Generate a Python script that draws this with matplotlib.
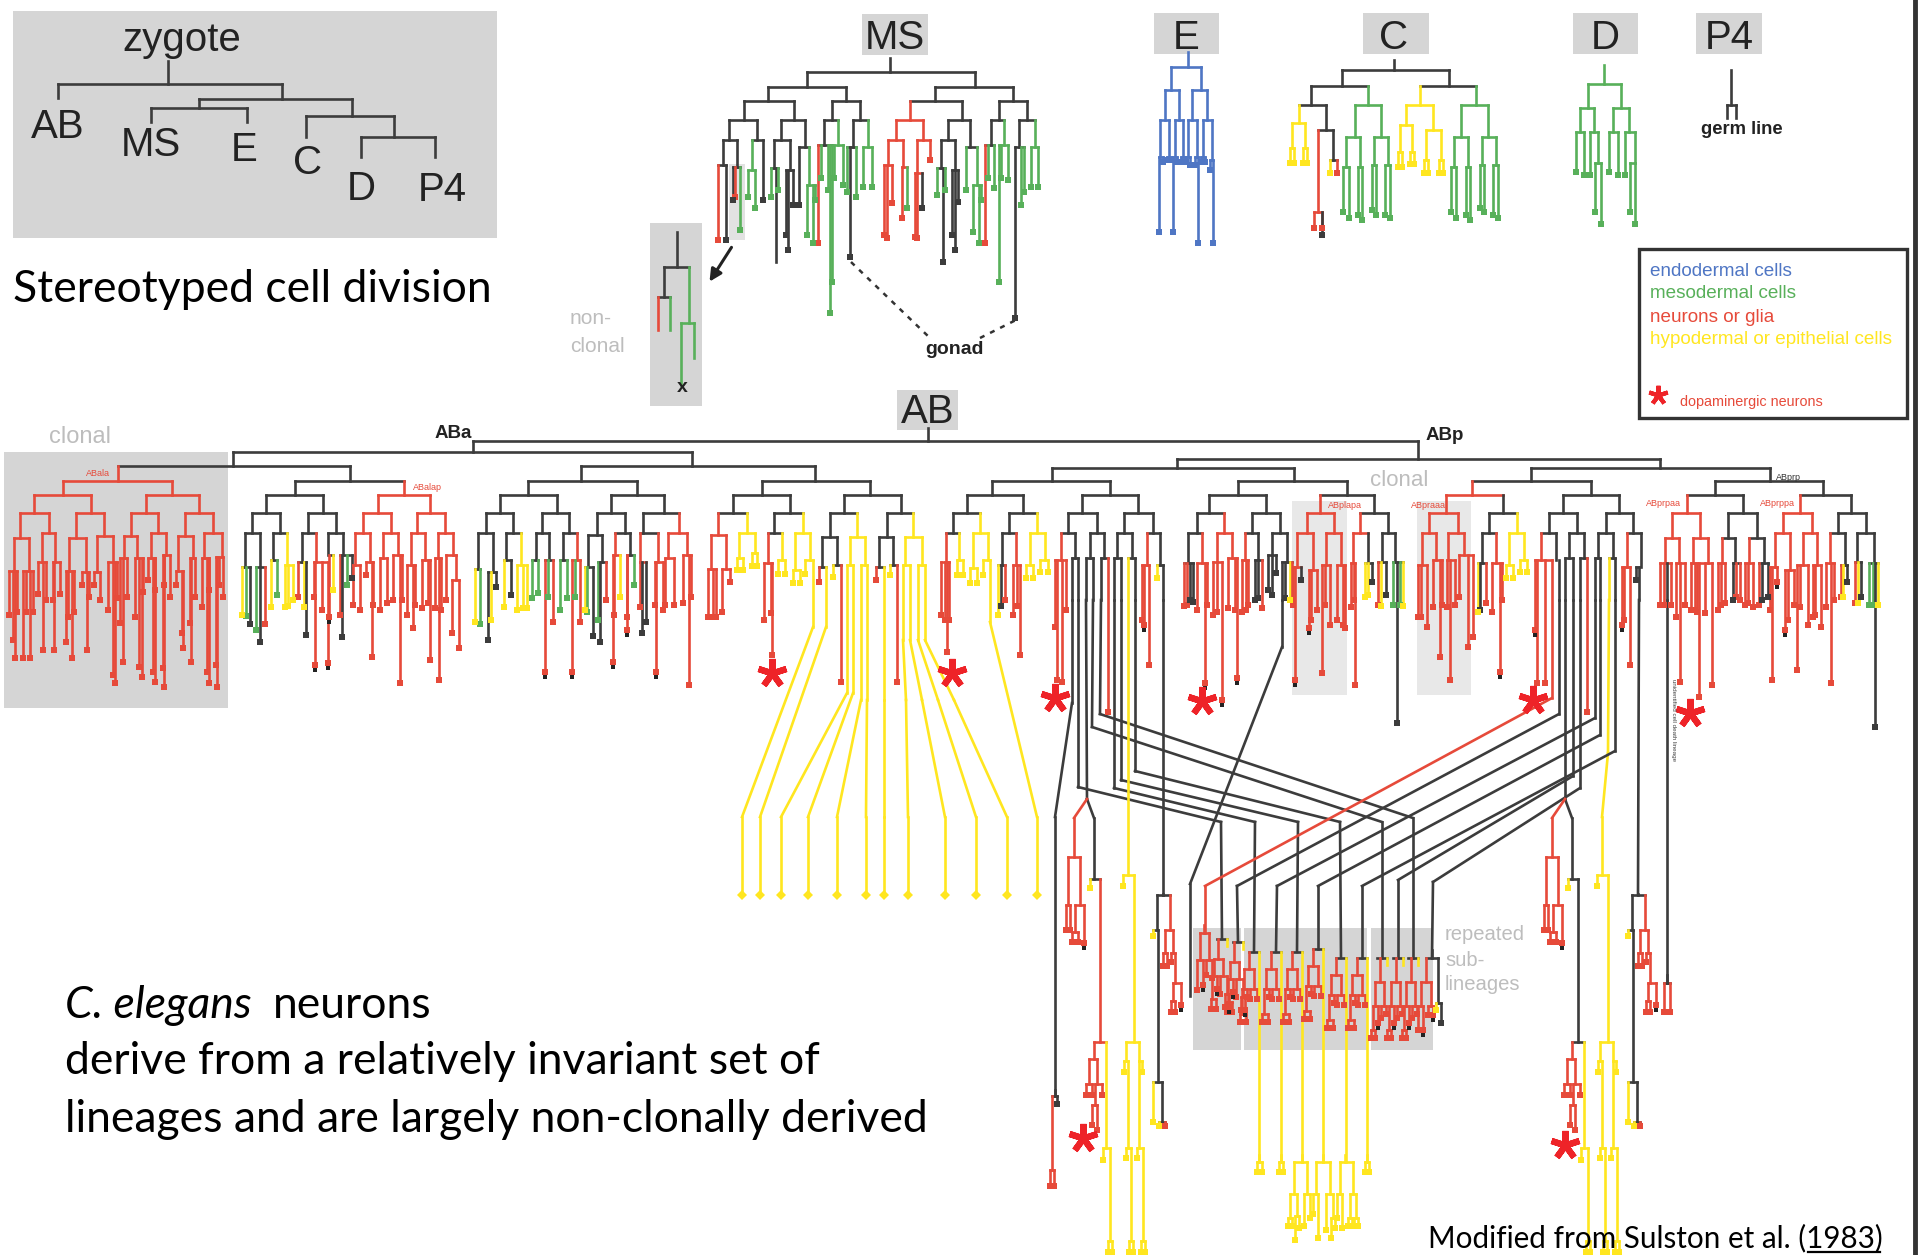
import matplotlib
matplotlib.use("Agg")
import matplotlib.pyplot as plt
from matplotlib.collections import LineCollection
from matplotlib.patches import Rectangle

k, r, g, y, b, z = 'k', 'r', 'g', 'y', 'b', 'z'
R = 'R'          # red branch ending in a black dot
K_ = 'k-'        # black branch continued by a long line, or without an end mark
Y_ = 'y-'
R_ = 'r-'
G_ = 'g-'
PALETTE = {'k': '#3c3c3c', 'r': '#e64a3a', 'g': '#58b05a', 'y': '#ffe620', 'b': '#4f76c4'}

# ---- founder overview tree: (x, y, colour, children)
ZYGOTE = (168, 84, k, [(58, 98, K_),
                       (282, 99, k, [(199, 108, k, [(151, 122, K_), (247, 122, K_)]),
                                     (352, 116, k, [(306, 137, K_),
                                                    (394, 137, k, [(361, 157, K_), (435, 157, K_)])])])])

# ---- MS lineage
MS_TREE = (890, 72, k, [
 (807, 87, k, [
  (768, 101, k, [
   (744, 120, k, [
    (729, 140, k, [(723, 165, k, [(718, 240, r), (726, 240, k)]),
                   (737, 167, k, [(733, 200, k), (735, 197, r), (740, 230, g)])]),
    (757, 140, k, [(752, 170, g, [(748, 197, g), (755, 208, g)]), (763, 200, k)])]),
   (794, 120, k, [
    (781, 140, k, [(774, 168, k, [(771, 197, g), (776, 262, K_), (778, 190, g)]),
                   (790, 170, k, [(786, 235, k), (788, 250, k), (793, 205, k)])]),
    (805, 147, k, [(799, 205, k), (809, 185, g, [(807, 235, g), (813, 243, g), (815, 200, g)])])])]),
  (846, 101, k, [
   (832, 120, k, [
    (824, 145, k, [(818, 243, r), (821, 178, g), (828, 190, g), (830, 313, g), (832, 282, g)]),
    (838, 145, g, [(834, 178, g), (843, 185, g)])]),
   (860, 120, k, [
    (853, 147, k, [(847, 192, g), (850, 257, k), (856, 197, g)]),
    (868, 147, g, [(863, 187, g), (872, 187, g)])])])]),
 (975, 87, k, [
  (935, 101, k, [
   (910, 120, r, [
    (896, 140, r, [(888, 165, r, [(884, 235, r), (887, 238, r), (892, 203, r)]),
                   (903, 167, r, [(902, 218, r), (907, 208, g)])]),
    (923, 140, r, [(917, 173, r, [(915, 237, r), (917, 238, r), (922, 208, k)]), (930, 160, r)])]),
   (962, 120, k, [
    (948, 140, k, [(941, 168, k, [(937, 195, g), (943, 262, k), (945, 190, g)]),
                   (955, 170, k, [(952, 235, k), (955, 250, k), (958, 202, k)])]),
    (970, 147, k, [(966, 190, g), (977, 185, g, [(973, 232, g), (979, 243, g), (981, 200, g)])])])]),
  (1013, 101, k, [
   (999, 120, k, [
    (991, 145, k, [(985, 243, r), (988, 178, g), (994, 188, g)]),
    (1004, 145, g, [(999, 282, g), (1001, 178, g), (1008, 180, g)])]),
   (1027, 120, k, [
    (1019, 147, k, [(1015, 318, k), (1021, 205, g), (1024, 192, g)]),
    (1035, 147, g, [(1031, 187, g), (1038, 187, g)])])])])])

NONCLONAL = (677, 267, k, [(664, 297, k, [(658, 330, R_), (670, 330, G_)]),
                           (689, 323, g, [(681, 385, G_), (694, 358, G_)])])

# ---- E, C, D, P4 lineages
E_TREE = (1188, 67, b, [
 (1171, 90, b, [
  (1165, 120, b, [(1160, 157, b, [(1159, 232, b), (1163, 162, b)]), (1169, 157, b, [(1167, 160, b), (1171, 160, b)])]),
  (1179, 120, b, [(1175, 157, b, [(1173, 232, b), (1177, 162, b)]), (1183, 157, b, [(1181, 162, b), (1185, 162, b)])])]),
 (1201, 90, b, [
  (1192, 120, b, [(1188, 157, b, [(1186, 162, b), (1190, 165, b)]), (1197, 157, b, [(1195, 165, b), (1198, 243, b)])]),
  (1207, 120, b, [(1203, 157, b, [(1201, 162, b), (1205, 162, b)]), (1212, 160, b, [(1213, 243, b), (1210, 170, b)])])])])

C_TREE = (1394, 70, k, [
 (1342, 86, k, [
  (1311, 105, k, [
   (1299, 123, y, [(1292, 148, y, [(1290, 163, y), (1294, 163, y)]), (1305, 148, y, [(1303, 163, y), (1307, 163, y)])]),
   (1326, 130, k, [(1318, 212, r, [(1314, 228, r), (1322, 228, r), (1322, 235, k)]),
                   (1333, 160, k, [(1330, 173, y), (1337, 173, r)])])]),
  (1368, 105, g, [
   (1355, 137, g, [(1346, 167, g, [(1343, 212, g), (1349, 218, g)]), (1360, 167, g, [(1358, 215, g), (1362, 220, g)])]),
   (1381, 137, g, [(1374, 165, g, [(1372, 210, g), (1376, 215, g)]), (1388, 165, g, [(1385, 215, g), (1390, 218, g)])])])]),
 (1449, 86, k, [
  (1420, 105, y, [
   (1406, 125, y, [(1400, 152, y, [(1398, 167, y), (1402, 167, y)]), (1412, 152, y, [(1410, 164, y), (1414, 164, y)])]),
   (1433, 130, y, [(1426, 160, y, [(1424, 173, y), (1428, 173, y)]), (1441, 160, y, [(1439, 173, y), (1443, 173, y)])])]),
  (1476, 105, g, [
   (1461, 137, g, [(1454, 167, g, [(1451, 212, g), (1456, 218, g)]), (1468, 167, g, [(1466, 215, g), (1470, 220, g)])]),
   (1488, 137, g, [(1482, 165, g, [(1480, 208, g), (1484, 212, g)]), (1496, 165, g, [(1493, 215, g), (1498, 218, g)])])])])])

D_TREE = (1604, 84, g, [
 (1588, 108, g, [(1580, 132, g, [(1576, 172, g), (1584, 175, g)]),
                 (1594, 132, g, [(1590, 175, g), (1598, 163, g, [(1595, 212, g), (1601, 224, g)])])]),
 (1621, 108, g, [(1613, 132, g, [(1609, 172, g), (1618, 175, g)]),
                 (1629, 132, g, [(1625, 175, g), (1635, 163, g, [(1630, 212, g), (1635, 224, g)])])])])

P4_TREE = (1731, 105, k, [(1727, 118, K_), (1736, 118, K_)])

# ---- AB lineage, anterior half
ABALA = (118, 481, r, [
 (63, 495, r, [
  (34, 513, r, [
   (20, 538, r, [(14, 571, r, [(9, 615, r), (13, 640, r), (15, 658, r), (17, 612, r)]),
                 (29, 571, r, [(23, 658, r), (26, 612, r), (30, 658, r), (33, 612, r)])]),
   (49, 533, r, [(42, 562, r, [(38, 594, r), (43, 650, r), (46, 600, r)]),
                 (55, 562, r, [(53, 600, r), (54, 650, r), (60, 594, r)])])]),
  (91, 513, r, [
   (76, 538, r, [(69, 571, r, [(66, 642, r), (68, 617, r), (72, 658, r), (74, 612, r)]),
                 (86, 572, r, [(82, 585, r), (87, 650, r), (89, 597, r)])]),
   (104, 536, r, [(97, 572, r, [(94, 585, r), (100, 600, r)]),
                  (113, 562, r, [(108, 610, r), (113, 675, r), (115, 683, r), (117, 598, r)])])])]),
 (172, 495, r, [
  (146, 513, r, [
   (131, 536, r, [(124, 558, r, [(120, 623, r), (123, 662, r), (127, 597, r)]),
                  (137, 558, r, [(135, 617, r), (139, 667, r), (142, 677, r), (143, 592, r)])]),
   (158, 533, r, [(151, 558, r, [(148, 580, r), (153, 672, r), (155, 682, r), (155, 590, r)]),
                  (166, 555, r, [(163, 668, r), (164, 687, r), (164, 585, r), (170, 597, r)])])]),
  (199, 513, r, [
   (185, 536, r, [(178, 571, r, [(176, 585, r), (182, 633, r), (183, 648, r)]),
                  (193, 558, r, [(190, 623, r), (191, 662, r), (195, 597, r)])]),
   (213, 533, r, [(204, 558, r, [(202, 607, r), (207, 672, r), (209, 683, r), (209, 590, r)]),
                  (222, 557, r, [(216, 665, r), (217, 687, r), (219, 585, r), (223, 597, r)])])])])])

ABALP = (350, 481, k, [
 (295, 495, k, [
  (266, 513, k, [
   (252, 533, k, [(245, 567, k, [(242, 615, y), (246, 616, g), (250, 624, k)]),
                  (260, 567, k, [(256, 630, g), (260, 642, k), (265, 624, r)])]),
   (280, 533, k, [(273, 560, k, [(271, 607, y), (277, 595, g)]),
                  (287, 565, y, [(285, 607, y), (288, 606, y), (293, 600, y)])])]),
  (323, 513, k, [
   (308, 533, k, [(302, 562, k, [(298, 597, r), (304, 607, y), (306, 635, k)]),
                  (316, 562, r, [(314, 597, r), (315, 665, R), (322, 610, r), (328, 663, R)])]),
   (336, 533, k, [(328, 555, k, [(329, 617, R), (333, 590, y)]),
                  (343, 555, k, [(340, 615, r), (342, 637, k), (347, 585, g), (352, 578, k)])])])]),
 (404, 495, r, [
  (378, 513, r, [
   (363, 533, r, [(355, 565, r, [(353, 605, r), (360, 610, r)]),
                  (370, 562, r, [(366, 575, r), (372, 657, r), (373, 605, r)])]),
   (391, 533, r, [(383, 558, r, [(380, 610, r), (387, 603, r)]),
                  (398, 555, r, [(393, 600, r), (400, 683, r), (402, 600, r)])])]),
  (430, 513, r, [
   (417, 533, r, [(411, 565, r, [(407, 615, r), (413, 628, r), (415, 605, r)]),
                  (425, 560, r, [(422, 608, r), (430, 660, r), (428, 603, r)])]),
   (445, 533, r, [(438, 558, r, [(435, 608, r), (439, 680, r), (441, 610, r)]),
                  (453, 555, r, [(446, 600, r), (456, 580, r, [(452, 633, r), (459, 648, r)])])])])])])

ABARA = (581, 481, k, [
 (528, 495, k, [
  (500, 513, k, [
   (486, 533, k, [(478, 569, k, [(475, 622, y), (480, 624, g)]),
                  (493, 572, k, [(488, 640, k), (491, 620, y), (496, 587, k)])]),
   (513, 533, k, [(506, 560, k, [(504, 607, y), (511, 595, k)]),
                  (521, 565, y, [(517, 610, y), (523, 608, y), (527, 608, y)])])]),
  (557, 513, k, [
   (542, 533, k, [(536, 560, k, [(532, 598, g), (538, 593, g)]),
                  (549, 560, k, [(545, 672, R), (548, 597, g), (553, 622, r)])]),
   (569, 533, k, [(563, 560, k, [(560, 610, g), (567, 598, g)]),
                  (577, 560, r, [(572, 672, R), (575, 597, g), (580, 622, r)])])])]),
 (637, 495, k, [
  (611, 513, k, [
   (597, 535, k, [(588, 567, k, [(585, 610, y), (587, 612, g), (593, 636, k)]),
                  (602, 562, k, [(598, 620, g), (600, 642, k), (606, 600, r)])]),
   (625, 533, k, [(615, 555, r, [(613, 662, R), (614, 615, r), (620, 597, y)]),
                  (630, 555, k, [(627, 630, R), (627, 617, r), (634, 585, g)])])]),
  (664, 513, k, [
   (643, 533, k, [(640, 562, r, [(640, 607, r), (642, 633, k), (646, 622, k)]),
                  (658, 562, r, [(655, 605, r), (656, 672, R), (663, 610, r)])]),
   (679, 533, r, [(668, 558, r, [(665, 605, r), (674, 605, r)]),
                  (687, 555, r, [(683, 603, r), (689, 685, r), (691, 597, r)])])])])])

ABARP = (815, 481, k, [
 (762, 495, k, [
  (733, 513, k, [
   (718, 535, r, [(711, 569, r, [(708, 617, r), (713, 617, r), (716, 617, r)]),
                  (726, 569, r, [(722, 612, r), (730, 582, r)])]),
   (747, 533, y, [(739, 558, y, [(737, 570, y), (743, 570, y)]),
                  (755, 553, y, [(752, 566, y), (757, 566, y)])])]),
  (790, 513, k, [
   (774, 533, k, [(768, 563, r, [(764, 620, r), (771, 613, r), (772, 655, r)]),
                  (782, 560, y, [(778, 574, y), (785, 574, y)])]),
   (803, 533, y, [(795, 570, y, [(793, 583, y), (800, 583, y)]),
                  (810, 560, y, [(805, 574, y), (813, 627, Y_)])])])]),
 (870, 495, k, [
  (844, 513, k, [
   (830, 537, k, [(822, 567, k, [(819, 582, r), (826, 627, Y_)]),
                  (837, 565, k, [(833, 577, y), (841, 682, r)])]),
   (857, 537, y, [(850, 565, y, [(847, 693, Y_), (853, 693, Y_)]),
                  (865, 565, y, [(861, 700, Y_), (867, 700, Y_)])])]),
  (901, 513, k, [
   (887, 537, k, [(879, 567, k, [(876, 580, r), (884, 700, Y_)]),
                  (893, 565, k, [(890, 575, y), (897, 682, r)])]),
   (913, 537, y, [(905, 565, y, [(903, 640, Y_), (910, 640, Y_)]),
                  (922, 565, y, [(918, 640, Y_), (925, 640, Y_)])])])])])

# ---- AB lineage, posterior half: (stem, y of its bar, colour, children)
ABPL_1 = (992, 495, k, [
 (967, 513, k, [
  (953, 533, k, [(946, 562, r, [(941, 615, r), (945, 620, r), (947, 652, r), (949, 620, r)]),
                 (959, 560, y, [(957, 575, y), (963, 575, y)])]),
  (980, 533, y, [(973, 568, y, [(970, 583, y), (977, 583, y)]),
                 (988, 560, y, [(983, 575, y), (990, 622, Y_)])])]),
 (1023, 513, k, [
  (1009, 533, k, [(1002, 565, k, [(998, 615, y), (1001, 606, k), (1005, 600, r)]),
                  (1016, 565, r, [(1013, 615, r), (1017, 606, r), (1020, 655, r)])]),
  (1037, 533, y, [(1030, 565, y, [(1026, 578, y), (1033, 578, y)]),
                  (1045, 560, y, [(1040, 572, y), (1048, 572, y)])])])])
ABPL_2 = (1110, 495, k, [
 (1082, 513, k, [
  (1068, 533, k, [(1061, 560, r, [(1055, 627, r), (1057, 680, r), (1062, 682, r), (1066, 610, r)]),
                  (1075, 558, k, [(1072, 600, K_), (1078, 600, K_)])]),
  (1097, 533, k, [(1090, 558, k, [(1086, 600, K_), (1093, 600, K_)]),
                  (1104, 558, k, [(1101, 600, K_), (1108, 712, r)])])]),
 (1138, 513, k, [
  (1124, 533, k, [(1117, 558, k, [(1114, 600, K_), (1121, 600, K_)]),
                  (1132, 558, k, [(1128, 558, Y_), (1135, 600, K_)])]),
  (1153, 533, k, [(1147, 565, r, [(1142, 620, r), (1144, 625, R), (1149, 665, r)]),
                  (1160, 565, k, [(1157, 578, y), (1163, 600, K_)])])])])
ABPL_3 = (1238, 495, k, [
 (1209, 513, k, [
  (1197, 533, k, [(1188, 563, k, [(1184, 606, r), (1187, 605, r), (1190, 600, k), (1193, 602, k)]),
                  (1202, 563, r, [(1197, 610, r), (1205, 683, R), (1207, 605, r)])]),
  (1224, 533, r, [(1217, 562, r, [(1213, 615, r), (1217, 612, r), (1222, 700, R)]),
                  (1232, 558, r, [(1228, 608, r), (1235, 610, r), (1237, 678, R)])])]),
 (1266, 513, k, [
  (1252, 533, k, [(1245, 560, r, [(1242, 612, r), (1246, 610, r), (1248, 605, r)]),
                  (1258, 560, k, [(1255, 600, k), (1258, 598, k), (1262, 608, r)])]),
  (1280, 533, k, [(1272, 555, k, [(1268, 590, k), (1272, 595, k), (1276, 573, k)]),
                  (1287, 562, k, [(1282, 600, K_), (1285, 598, k), (1290, 600, y), (1292, 600, r)])])])])
ABPL_4 = (1347, 495, k, [
 (1320, 513, r, [
  (1307, 533, r, [(1297, 567, r, [(1293, 605, r), (1295, 680, R), (1301, 580, k)]),
                  (1313, 570, r, [(1309, 628, R), (1311, 620, r), (1317, 610, r)])]),
  (1334, 533, r, [(1326, 565, r, [(1322, 673, r), (1325, 605, r), (1330, 625, r)]),
                  (1341, 565, r, [(1337, 620, r), (1343, 625, r), (1345, 628, r)])])]),
 (1374, 513, k, [
  (1360, 533, r, [(1353, 563, r, [(1351, 607, r), (1355, 685, r), (1354, 600, r)]),
                  (1368, 563, k, [(1365, 597, y), (1368, 595, y), (1372, 582, k)])]),
  (1388, 533, k, [(1382, 562, k, [(1378, 605, r), (1381, 606, y), (1386, 595, k)]),
                  (1395, 562, k, [(1393, 605, g), (1397, 723, k), (1400, 605, g), (1403, 606, y)])])])])
ABPR_1 = (1472, 495, r, [
 (1446, 513, r, [
  (1429, 533, r, [(1422, 565, r, [(1418, 617, r), (1421, 617, r), (1427, 627, r)]),
                  (1436, 560, r, [(1433, 607, r), (1440, 657, r), (1442, 605, r)])]),
  (1458, 533, r, [(1448, 560, r, [(1447, 607, r), (1450, 680, r), (1455, 605, r)]),
                  (1464, 555, r, [(1459, 597, r), (1468, 647, r), (1473, 637, r)])])]),
 (1503, 513, k, [
  (1489, 533, k, [(1482, 563, k, [(1478, 612, y), (1480, 610, k), (1486, 603, r)]),
                  (1496, 563, r, [(1492, 612, r), (1500, 672, R), (1502, 600, r)])]),
  (1517, 533, y, [(1509, 565, y, [(1506, 578, y), (1513, 578, y)]),
                  (1524, 560, y, [(1520, 572, y), (1527, 572, y)])])])])
ABPR_2 = (1591, 495, k, [
 (1563, 513, k, [
  (1549, 533, k, [(1541, 560, r, [(1535, 630, R), (1537, 683, r), (1545, 683, r), (1552, 698, R_)]),
                  (1556, 560, k, [(1559, 600, K_)])]),
  (1577, 533, k, [(1569, 558, k, [(1565, 600, K_), (1573, 600, K_)]),
                  (1584, 558, k, [(1580, 600, K_), (1587, 712, r)])])]),
 (1619, 513, k, [
  (1606, 533, k, [(1598, 558, k, [(1595, 600, K_), (1600, 600, K_)]),
                  (1613, 558, k, [(1609, 600, Y_), (1615, 600, K_)])]),
  (1633, 533, k, [(1627, 567, r, [(1622, 625, R), (1624, 620, r), (1630, 665, r)]),
                  (1641, 567, k, [(1636, 580, k), (1639, 600, K_)])])])])
ABPR_3 = (1715, 495, k, [
 (1687, 513, r, [
  (1672, 538, r, [(1665, 563, r, [(1660, 605, r), (1664, 605, r), (1667, 600, K_), (1671, 605, r)]),
                  (1679, 563, r, [(1676, 617, r), (1680, 682, r), (1685, 605, r)])]),
  (1700, 538, r, [(1693, 563, r, [(1691, 610, r), (1695, 610, r), (1697, 612, r)]),
                  (1708, 563, r, [(1699, 697, r), (1705, 613, r), (1712, 685, r)])])]),
 (1743, 513, k, [
  (1728, 538, k, [(1722, 563, r, [(1718, 610, r), (1721, 605, r), (1725, 603, r)]),
                  (1735, 563, k, [(1733, 600, k), (1736, 597, r), (1740, 600, r)])]),
  (1757, 538, k, [(1749, 563, r, [(1745, 605, r), (1748, 603, r), (1753, 607, r)]),
                  (1764, 563, k, [(1759, 605, r), (1762, 600, k), (1768, 597, k)])])])])
ABPR_4 = (1823, 495, k, [
 (1800, 513, r, [
  (1783, 533, r, [(1775, 567, r, [(1770, 610, r), (1772, 680, r), (1777, 582, R)]),
                  (1790, 570, r, [(1785, 630, R), (1788, 620, r), (1794, 605, r)])]),
  (1812, 533, r, [(1803, 565, r, [(1797, 670, r), (1800, 607, r), (1808, 625, r)]),
                  (1817, 565, r, [(1813, 617, r), (1815, 615, r), (1821, 627, r)])])]),
 (1851, 513, k, [
  (1838, 533, k, [(1830, 563, r, [(1826, 607, r), (1831, 683, r), (1834, 600, r)]),
                  (1845, 565, k, [(1841, 597, r), (1843, 597, y), (1847, 582, k)])]),
  (1866, 533, k, [(1857, 562, k, [(1855, 603, r), (1858, 603, y), (1861, 597, k)]),
                  (1874, 563, k, [(1869, 605, g), (1873, 605, g), (1875, 727, k), (1878, 605, y)])])])])

# horizontal rungs of the AB trunk: y, x0, x1 and stems: x, y0, y1
AB_RUNGS = [(441, 473, 1418), (459, 1177, 1660), (468, 1052, 1294), (468, 1531, 1770),
            (481, 992, 1110), (481, 1238, 1347), (481, 1472, 1591), (481, 1715, 1823)]
AB_STEMS = [(928, 428, 441), (1418, 441, 459), (1177, 459, 468), (1660, 459, 468),
            (1052, 468, 481), (1294, 468, 481), (1531, 468, 481), (1770, 468, 481)]

# long connecting lines (x, y vertices)
YELLOW_LONG = [[(813, 627), (742, 817), (742, 892)], [(826, 627), (760, 817), (760, 892)],
               [(847, 693), (781, 817), (781, 892)], [(853, 693), (808, 817), (808, 892)],
               [(861, 700), (837, 817), (837, 892)], [(867, 700), (866, 817), (866, 892)],
               [(884, 700), (884, 817), (884, 892)], [(903, 640), (906, 700), (908, 817), (908, 892)],
               [(910, 640), (922, 700), (945, 817), (945, 892)], [(918, 640), (938, 700), (976, 817), (976, 892)],
               [(925, 640), (954, 700), (1007, 817), (1007, 892)], [(990, 622), (1037, 817), (1037, 892)],
               [(1609, 600), (1608, 753), (1602, 817), (1602, 875)]]
BLACK_LONG = [[(1072, 600), (1072, 703), (1055, 817), (1055, 1096)],
              [(1078, 600), (1078, 787), (1221, 822), (1222, 939)],
              [(1086, 600), (1087, 799)],
              [(1093, 600), (1092, 727), (1382, 822), (1382, 958)],
              [(1101, 600), (1100, 714), (1413, 818), (1413, 958)],
              [(1114, 600), (1114, 788), (1255, 822), (1254, 952)],
              [(1121, 600), (1121, 780), (1298, 822), (1297, 952)],
              [(1135, 600), (1135, 771), (1340, 822), (1341, 958)],
              [(1163, 600), (1163, 895)],
              [(1282, 600), (1282, 647), (1190, 884), (1190, 996)],
              [(1559, 600), (1559, 714), (1237, 886), (1238, 942)],
              [(1565, 600), (1565, 799)],
              [(1573, 600), (1573, 776), (1398, 880), (1398, 958)],
              [(1580, 600), (1580, 788), (1433, 882), (1432, 958)],
              [(1595, 600), (1595, 718), (1277, 886), (1276, 952)],
              [(1600, 600), (1600, 735), (1318, 886), (1318, 949)],
              [(1615, 600), (1615, 751), (1362, 886), (1362, 958)],
              [(1639, 600), (1638, 895)],
              [(1667, 600), (1667, 983)],
              [(1087, 799), (1094, 818)], [(1565, 799), (1572, 818)]]
RED_LONG = [[(1552, 698), (1205, 886), (1205, 933)],
            [(1087, 799), (1074, 818)], [(1565, 799), (1552, 818)]]
GONAD_DASHES = [[(851, 262), (930, 338)], [(980, 338), (1016, 320)]]

# side branches below the connecting lines (drawn at each x offset)
CLUSTER_RED = (1074, 857, r, [(1068, 905, r, [(1066, 930, r), (1070, 930, r)]),
                              (1080, 905, r, [(1075, 932, r, [(1072, 942, r), (1078, 942, r)]), (1084, 943, R)])])
CLUSTER_BLACK = (1094, 879, k, [(1090, 888, y),
                 (1100, 1042, z, [(1094, 1059, r, [(1089, 1084, r, [(1086, 1095, r), (1092, 1095, r)]),
                                                   (1097, 1084, r, [(1095, 1105, r, [(1092, 1125, r), (1097, 1130, r)]), (1102, 1095, r)])]),
                                  (1106, 1148, y, [(1103, 1160, y), (1110, 1241, y, [(1108, 1252, y), (1112, 1252, y)])])])])
CLUSTER_OFFSETS = [(0, r), (478, k)]
YELLOW_COLUMN = (1128, 875, y, [(1123, 886, y),
                 (1134, 1042, y, [(1126, 1061, y, [(1124, 1072, y), (1128, 1148, y, [(1126, 1158, y), (1131, 1241, y, [(1129, 1252, y), (1133, 1252, y)])])]),
                                  (1139, 1061, y, [(1142, 1072, y), (1139, 1148, y, [(1137, 1158, y), (1143, 1241, y, [(1141, 1252, y), (1145, 1252, y)])])])])])
YELLOW_OFFSETS = [(558, 0), (875, 474)]
BLACK_BRANCH = (1163, 895, k, [(1157, 930, k, [(1153, 936, y),
                  (1158, 1082, k, [(1153, 1122, y), (1162, 1122, k, [(1159, 1126, y), (1165, 1126, r)])])]),
                  (1170, 930, r, [(1165, 953, r, [(1163, 966, r), (1167, 966, r)]),
                                  (1173, 953, r, [(1171, 962, r),
                                                  (1175, 983, r, [(1173, 1001, r, [(1171, 1012, r), (1175, 1012, r)]), (1181, 1005, R)])])])])
BLACK_BRANCH_OFFSETS = [0, 475]
LEFT_TAIL = (1055, 1096, k, [(1052, 1170, r, [(1050, 1186, r), (1054, 1186, r)]), (1057, 1104, k)])
RIGHT_TAIL = (1667, 983, k, [(1664, 1012, r), (1670, 1012, r)])

# repeated sub-lineages: stem x, bar y, end of the right branch
SUB_FIRST = (1204, 933, r, [(1200, 960, r, [(1197, 990, r), (1203, 985, R)]),
                            (1209, 960, r, [(1206, 975, r), (1212, 978, r)])])
STEMS_C = [(1222, 939, 946), (1238, 942, 949)]
STEMS_A = [(1254, 952, 1162), (1276, 952, 1162), (1297, 952, 1162),
           (1318, 949, 1162), (1341, 958, 1162), (1362, 958, 1162)]
STEMS_B = [(1382, 958, 965), (1398, 958, 965), (1413, 958, 965)]
SHAPE_C = (-4, 20, r, [(-8, 37, r, [(-10, 60, r, [(-11, 70, r), (-6, 70, r)]), (-5, 50, R)]),
                       (1, 37, r, [(-2, 55, r), (5, 55, r, [(3, 68, r), (7, 68, R)])])])
SHAPE_A = (-5, 17, r, [(-10, 37, r, [(-12, 62, r, [(-14, 70, r), (-8, 70, r)]), (-7, 45, r)]),
                       (0, 37, r, [(-4, 47, r), (3, 47, r)])])
SHAPE_B = (-2, 24, r, [(-7, 48, r, [(-9, 72, r, [(-11, 80, r), (-7, 80, r)]), (-4, 65, R)]),
                       (2, 48, r, [(-1, 60, r), (4, 56, r)])])
SUB_LAST = (1432, 958, k, [(1426, 982, r, [(1421, 1006, r, [(1418, 1030, r), (1423, 1030, R)]), (1431, 1006, r, [(1428, 1015, r), (1433, 1015, R)])]),
                           (1438, 1003, k, [(1436, 1010, y), (1441, 1023, k)])])
YELLOW_BOTTOM = [(1259, 1162, y, [(1257, 1172, y), (1262, 1172, y)]),
                 (1281, 1162, y, [(1279, 1172, y), (1283, 1172, y)]),
                 (1302, 1162, y, [(1294, 1194, y, [(1290, 1218, y, [(1288, 1226, y), (1292, 1226, y)]), (1297, 1216, y, [(1295, 1240, y), (1299, 1228, y)])]),
                                  (1307, 1194, y, [(1304, 1226, y), (1310, 1218, y)])]),
                 (1323, 1162, y, [(1316, 1194, y, [(1313, 1214, y), (1318, 1238, y)]),
                                  (1330, 1194, y, [(1326, 1230, y), (1333, 1218, y, [(1331, 1238, y), (1335, 1228, y)])])]),
                 (1345, 1162, y, [(1340, 1194, y, [(1337, 1218, y), (1342, 1228, y)]),
                                  (1353, 1194, y, [(1350, 1218, y, [(1348, 1226, y), (1352, 1226, y)]), (1356, 1218, y, [(1354, 1226, y), (1358, 1226, y)])])]),
                 (1367, 1162, y, [(1365, 1172, y), (1369, 1172, y)])]

# grey boxes: x0, y0, x1, y1, grey
BOXES = [(13, 11, 497, 238, '#d5d5d5'), (650, 223, 702, 406, '#d5d5d5'), (729, 164, 745, 240, '#e2e2e2'),
         (4, 452, 228, 708, '#d5d5d5'), (1292, 501, 1347, 695, '#e8e8e8'), (1417, 501, 1471, 695, '#e8e8e8'),
         (1193, 928, 1241, 1050, '#d5d5d5'), (1244, 928, 1367, 1050, '#d5d5d5'), (1371, 928, 1433, 1050, '#d5d5d5'),
         (862, 14, 928, 55, '#d5d5d5'), (897, 390, 958, 430, '#d5d5d5'), (1154, 13, 1219, 54, '#d5d5d5'),
         (1363, 13, 1429, 54, '#d5d5d5'), (1573, 13, 1638, 54, '#d5d5d5'), (1696, 13, 1762, 54, '#d5d5d5')]
STARS = [(772, 673), (952, 673), (1055, 698), (1202, 701), (1533, 700), (1690, 713), (1083, 1138), (1565, 1145)]
YELLOW_TIPS_X = [742, 760, 781, 808, 837, 866, 884, 908, 945, 976, 1007, 1037]
BIG_LABELS = [('zygote', 182, 40), ('AB', 58, 127), ('MS', 151, 145), ('E', 244, 150), ('C', 308, 163),
              ('D', 361, 189), ('P4', 442, 190), ('MS', 895, 38), ('AB', 928, 412), ('E', 1186, 38),
              ('C', 1394, 38), ('D', 1605, 38), ('P4', 1729, 38)]
GREY_LABELS = [('non-', 570, 318, 15), ('clonal', 570, 347, 15), ('clonal', 49, 437, 17), ('clonal', 1370, 481, 16),
               ('repeated', 1445, 935, 14.6), ('sub-', 1445, 961, 14.6), ('lineages', 1445, 985, 14.6)]
BOLD_LABELS = [('ABa', 453, 433, 13.5), ('ABp', 1445, 435, 13.5), ('germ line', 1742, 130, 13.2),
               ('gonad', 955, 349, 14), ('x', 682, 388, 14)]
TINY_RED = [('ABala', 98, 473), ('ABalap', 427, 488), ('ABplapa', 1345, 506), ('ABpraaa', 1428, 506),
            ('ABprpaa', 1663, 503), ('ABprppa', 1777, 503)]
LEGEND = [('endodermal cells', 271, 'b'), ('mesodermal cells', 294, 'g'), ('neurons or glia', 317, 'r'),
          ('hypodermal or epithelial cells', 339, 'y')]

fig = plt.figure(figsize=(19.18, 12.55), dpi=100)
ax = fig.add_axes([0, 0, 1, 1])
ax.set_xlim(0, 1918)
ax.set_ylim(1255, 0)
ax.axis('off')

for x0, y0, x1, y1, col in BOXES:
    ax.add_patch(Rectangle((x0, y0), x1 - x0, y1 - y0, fc=col, ec='none', zorder=1))

segs, cols = [], []
tips = {}


def base(c, zc):
    c0 = c[0].lower()
    return zc if c0 == 'z' else c0


def draw(node, py, dx=0, zc='k', oy=0):
    x, ny, c = node[:3]
    ny = ny + oy
    col = PALETTE[base(c, zc)]
    segs.append([(x + dx, py), (x + dx, ny)])
    cols.append(col)
    kids = node[3] if len(node) > 3 else []
    if kids:
        xs = [kd[0] for kd in kids]
        segs.append([(min(xs) + dx, ny), (max(xs) + dx, ny)])
        cols.append(col)
        for kd in kids:
            draw(kd, ny, dx, zc, oy)
    elif not c.endswith('-'):
        tips.setdefault(col, []).append((x + dx, ny))
        if c == 'R':
            tips.setdefault('#222222', []).append((x + dx, ny + 5))


def poly(pts, c):
    for a, c2 in zip(pts[:-1], pts[1:]):
        segs.append([a, c2])
        cols.append(PALETTE[c])


for tree, py in ((ZYGOTE, 61), (MS_TREE, 58), (NONCLONAL, 232), (E_TREE, 52), (C_TREE, 60), (D_TREE, 65), (P4_TREE, 70)):
    draw(tree, py)

for ry, x0, x1 in AB_RUNGS:
    poly([(x0, ry), (x1, ry)], 'k')
for sx, y0, y1 in AB_STEMS:
    poly([(sx, y0), (sx, y1)], 'k')
draw((473, 452, k, [(233, 466, k, [ABALA, ABALP]), (692, 466, k, [ABARA, ABARP])]), 441)
for tree in (ABPL_1, ABPL_2, ABPL_3, ABPL_4, ABPR_1, ABPR_2, ABPR_3, ABPR_4):
    draw(tree, 481)

for pts in YELLOW_LONG:
    poly(pts, 'y')
for pts in BLACK_LONG:
    poly(pts, 'k')
for pts in RED_LONG:
    poly(pts, 'r')

for dx, zc in CLUSTER_OFFSETS:
    draw(CLUSTER_RED, 818, dx, zc)
    draw(CLUSTER_BLACK, 818, dx, zc)
for py, dx in YELLOW_OFFSETS:
    draw(YELLOW_COLUMN, py, dx)
for dx in BLACK_BRANCH_OFFSETS:
    draw(BLACK_BRANCH, 894, dx)
draw(LEFT_TAIL, 1090)
draw(RIGHT_TAIL, 975)

draw(SUB_FIRST, 925)
for stems, shape in ((STEMS_C, SHAPE_C), (STEMS_A, SHAPE_A), (STEMS_B, SHAPE_B)):
    for sx, sy, yend in stems:
        poly([(sx - 5, sy), (sx + 5, sy)], 'k')
        draw(shape, sy, sx, 'k', sy)
        poly([(sx + 5, sy), (sx + 5, yend)], 'y')
draw(SUB_LAST, 950)
for node in YELLOW_BOTTOM:
    draw(node, 1155)

lc = LineCollection(segs, colors=cols, linewidths=1.9, capstyle='projecting', zorder=3)
ax.add_collection(lc)
for col, pts in tips.items():
    ax.plot([p[0] for p in pts], [p[1] for p in pts], ls='none', marker='s',
            ms=4.2 if col != '#222222' else 3, color=col, mew=0, zorder=4)
ax.plot(YELLOW_TIPS_X, [895] * len(YELLOW_TIPS_X), ls='none', marker='D', ms=5, color=PALETTE['y'], mew=0, zorder=4)

for pts in GONAD_DASHES:
    ax.plot([p[0] for p in pts], [p[1] for p in pts], color='#333333', lw=1.8, ls=(0, (2, 2.5)), zorder=3)
ax.annotate('', xy=(708, 284), xytext=(733, 245),
            arrowprops=dict(arrowstyle='-|>', color='#222222', lw=2.2, mutation_scale=18), zorder=5)

ax.plot([p[0] for p in STARS], [p[1] for p in STARS], ls='none', marker=(5, 2, 0), ms=21, mew=4.5,
        color='#ee2328', zorder=6)
ax.plot([1658], [395], ls='none', marker=(5, 2, 0), ms=14, mew=3, color='#ee2328', zorder=6)

SANS = 'Liberation Sans'
for t, x_, y_ in BIG_LABELS:
    ax.text(x_, y_, t, fontsize=29, family=SANS, color='#222222', ha='center', va='center', zorder=7)
for t, x_, y_, fs in GREY_LABELS:
    ax.text(x_, y_, t, fontsize=fs, family=SANS, color='#bdbdbd', ha='left', va='center', zorder=7)
for t, x_, y_, fs in BOLD_LABELS:
    ax.text(x_, y_, t, fontsize=fs, family=SANS, weight='bold', color='#222222', ha='center', va='center', zorder=7)
for t, x_, y_ in TINY_RED:
    ax.text(x_, y_, t, fontsize=6.5, family=SANS, color=PALETTE['r'], ha='center', va='center', zorder=7)
ax.text(1788, 477, 'ABprp', fontsize=6.5, family=SANS, color='#333333', ha='center', va='center', zorder=7)
ax.text(1671, 720, 'unidentified cell death lineage', fontsize=4.5, family=SANS, color='#444444', rotation=270,
        ha='left', va='center', zorder=7)

ax.add_patch(Rectangle((1639, 249), 268, 169, fc='white', ec='#333333', lw=2.4, zorder=2))
for t, y_, c_ in LEGEND:
    ax.text(1650, y_, t, fontsize=13.6, family=SANS, color=PALETTE[c_], ha='left', va='center', zorder=7)
ax.text(1680, 402, 'dopaminergic neurons', fontsize=10.4, family=SANS, color=PALETTE['r'], ha='left', va='center', zorder=7)

CAL = 'Lato'
ax.text(13, 290, 'Stereotyped cell division', fontsize=32, family=CAL, color='black', ha='left', va='center', zorder=7)
ax.text(65, 1005, 'C. elegans', fontsize=32, family=CAL, style='italic', color='black', ha='left', va='center', zorder=7)
ax.text(273, 1005, 'neurons', fontsize=32, family=CAL, color='black', ha='left', va='center', zorder=7)
ax.text(65, 1062, 'derive from a relatively invariant set of', fontsize=32, family=CAL, color='black', ha='left', va='center', zorder=7)
ax.text(65, 1120, 'lineages and are largely non-clonally derived', fontsize=32, family=CAL, color='black', ha='left', va='center', zorder=7)
ax.text(1428, 1238, 'Modified from Sulston et al. (1983)', fontsize=21.3, family=CAL, color='black', ha='left', va='center', zorder=7)
ax.plot([1808, 1880], [1252, 1252], color='black', lw=1.6, zorder=7)
ax.plot([1915, 1915], [0, 1255], color='#333333', lw=3.5, zorder=7)

fig.savefig('out.png', dpi=100)
